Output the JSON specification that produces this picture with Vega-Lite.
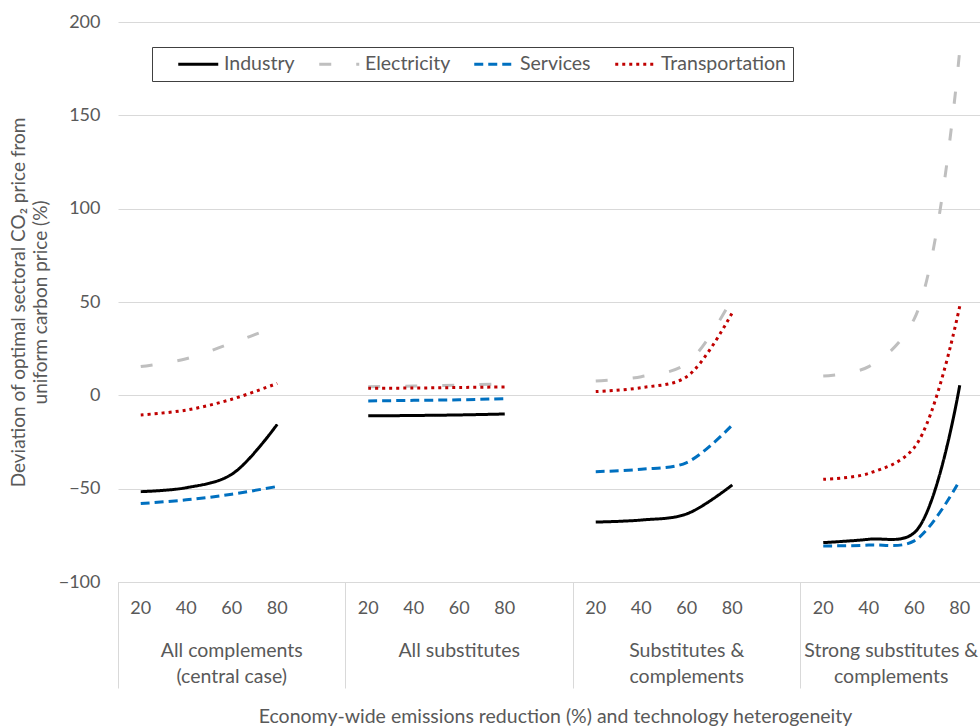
{
 "$schema": "https://vega.github.io/schema/vega-lite/v6.json",
 "autosize": {"type": "none"},
 "width": 862,
 "height": 560,
 "padding": {"left": 118, "top": 22, "right": 0, "bottom": 146},
 "background": "white",
 "data": {"values": [
  {"scenario": "All complements (central case)", "slot": "All complements (central case)|20", "sector": "Industry", "value": -51.6},
  {"scenario": "All complements (central case)", "slot": "All complements (central case)|40", "sector": "Industry", "value": -49.5},
  {"scenario": "All complements (central case)", "slot": "All complements (central case)|60", "sector": "Industry", "value": -42.3},
  {"scenario": "All complements (central case)", "slot": "All complements (central case)|80", "sector": "Industry", "value": -15.5},
  {"scenario": "All complements (central case)", "slot": "All complements (central case)|20", "sector": "Electricity", "value": 15.4},
  {"scenario": "All complements (central case)", "slot": "All complements (central case)|40", "sector": "Electricity", "value": 19.6},
  {"scenario": "All complements (central case)", "slot": "All complements (central case)|60", "sector": "Electricity", "value": 28.0},
  {"scenario": "All complements (central case)", "slot": "All complements (central case)|80", "sector": "Electricity", "value": 37.0},
  {"scenario": "All complements (central case)", "slot": "All complements (central case)|20", "sector": "Services", "value": -58.0},
  {"scenario": "All complements (central case)", "slot": "All complements (central case)|40", "sector": "Services", "value": -56.0},
  {"scenario": "All complements (central case)", "slot": "All complements (central case)|60", "sector": "Services", "value": -53.0},
  {"scenario": "All complements (central case)", "slot": "All complements (central case)|80", "sector": "Services", "value": -48.8},
  {"scenario": "All complements (central case)", "slot": "All complements (central case)|20", "sector": "Transportation", "value": -10.5},
  {"scenario": "All complements (central case)", "slot": "All complements (central case)|40", "sector": "Transportation", "value": -7.9},
  {"scenario": "All complements (central case)", "slot": "All complements (central case)|60", "sector": "Transportation", "value": -2.1},
  {"scenario": "All complements (central case)", "slot": "All complements (central case)|80", "sector": "Transportation", "value": 6.4},
  {"scenario": "All substitutes", "slot": "All substitutes|20", "sector": "Industry", "value": -11.0},
  {"scenario": "All substitutes", "slot": "All substitutes|40", "sector": "Industry", "value": -10.8},
  {"scenario": "All substitutes", "slot": "All substitutes|60", "sector": "Industry", "value": -10.5},
  {"scenario": "All substitutes", "slot": "All substitutes|80", "sector": "Industry", "value": -10.0},
  {"scenario": "All substitutes", "slot": "All substitutes|20", "sector": "Electricity", "value": 4.6},
  {"scenario": "All substitutes", "slot": "All substitutes|40", "sector": "Electricity", "value": 5.0},
  {"scenario": "All substitutes", "slot": "All substitutes|60", "sector": "Electricity", "value": 5.5},
  {"scenario": "All substitutes", "slot": "All substitutes|80", "sector": "Electricity", "value": 6.2},
  {"scenario": "All substitutes", "slot": "All substitutes|20", "sector": "Services", "value": -3.0},
  {"scenario": "All substitutes", "slot": "All substitutes|40", "sector": "Services", "value": -2.7},
  {"scenario": "All substitutes", "slot": "All substitutes|60", "sector": "Services", "value": -2.4},
  {"scenario": "All substitutes", "slot": "All substitutes|80", "sector": "Services", "value": -1.8},
  {"scenario": "All substitutes", "slot": "All substitutes|20", "sector": "Transportation", "value": 3.8},
  {"scenario": "All substitutes", "slot": "All substitutes|40", "sector": "Transportation", "value": 3.9},
  {"scenario": "All substitutes", "slot": "All substitutes|60", "sector": "Transportation", "value": 4.2},
  {"scenario": "All substitutes", "slot": "All substitutes|80", "sector": "Transportation", "value": 4.5},
  {"scenario": "Substitutes & complements", "slot": "Substitutes & complements|20", "sector": "Industry", "value": -67.9},
  {"scenario": "Substitutes & complements", "slot": "Substitutes & complements|40", "sector": "Industry", "value": -66.8},
  {"scenario": "Substitutes & complements", "slot": "Substitutes & complements|60", "sector": "Industry", "value": -63.5},
  {"scenario": "Substitutes & complements", "slot": "Substitutes & complements|80", "sector": "Industry", "value": -48.0},
  {"scenario": "Substitutes & complements", "slot": "Substitutes & complements|20", "sector": "Electricity", "value": 7.7},
  {"scenario": "Substitutes & complements", "slot": "Substitutes & complements|40", "sector": "Electricity", "value": 10.0},
  {"scenario": "Substitutes & complements", "slot": "Substitutes & complements|60", "sector": "Electricity", "value": 17.0},
  {"scenario": "Substitutes & complements", "slot": "Substitutes & complements|80", "sector": "Electricity", "value": 52.0},
  {"scenario": "Substitutes & complements", "slot": "Substitutes & complements|20", "sector": "Services", "value": -40.9},
  {"scenario": "Substitutes & complements", "slot": "Substitutes & complements|40", "sector": "Services", "value": -39.6},
  {"scenario": "Substitutes & complements", "slot": "Substitutes & complements|60", "sector": "Services", "value": -36.0},
  {"scenario": "Substitutes & complements", "slot": "Substitutes & complements|80", "sector": "Services", "value": -15.9},
  {"scenario": "Substitutes & complements", "slot": "Substitutes & complements|20", "sector": "Transportation", "value": 2.0},
  {"scenario": "Substitutes & complements", "slot": "Substitutes & complements|40", "sector": "Transportation", "value": 4.1},
  {"scenario": "Substitutes & complements", "slot": "Substitutes & complements|60", "sector": "Transportation", "value": 10.0},
  {"scenario": "Substitutes & complements", "slot": "Substitutes & complements|80", "sector": "Transportation", "value": 44.3},
  {"scenario": "Strong substitutes & complements", "slot": "Strong substitutes & complements|20", "sector": "Industry", "value": -78.9},
  {"scenario": "Strong substitutes & complements", "slot": "Strong substitutes & complements|40", "sector": "Industry", "value": -77.1},
  {"scenario": "Strong substitutes & complements", "slot": "Strong substitutes & complements|60", "sector": "Industry", "value": -73.6},
  {"scenario": "Strong substitutes & complements", "slot": "Strong substitutes & complements|80", "sector": "Industry", "value": 5.4},
  {"scenario": "Strong substitutes & complements", "slot": "Strong substitutes & complements|20", "sector": "Electricity", "value": 10.4},
  {"scenario": "Strong substitutes & complements", "slot": "Strong substitutes & complements|40", "sector": "Electricity", "value": 15.4},
  {"scenario": "Strong substitutes & complements", "slot": "Strong substitutes & complements|60", "sector": "Electricity", "value": 41.0},
  {"scenario": "Strong substitutes & complements", "slot": "Strong substitutes & complements|80", "sector": "Electricity", "value": 185.0},
  {"scenario": "Strong substitutes & complements", "slot": "Strong substitutes & complements|20", "sector": "Services", "value": -80.7},
  {"scenario": "Strong substitutes & complements", "slot": "Strong substitutes & complements|40", "sector": "Services", "value": -80.2},
  {"scenario": "Strong substitutes & complements", "slot": "Strong substitutes & complements|60", "sector": "Services", "value": -78.0},
  {"scenario": "Strong substitutes & complements", "slot": "Strong substitutes & complements|80", "sector": "Services", "value": -45.5},
  {"scenario": "Strong substitutes & complements", "slot": "Strong substitutes & complements|20", "sector": "Transportation", "value": -45.0},
  {"scenario": "Strong substitutes & complements", "slot": "Strong substitutes & complements|40", "sector": "Transportation", "value": -41.8},
  {"scenario": "Strong substitutes & complements", "slot": "Strong substitutes & complements|60", "sector": "Transportation", "value": -28.0},
  {"scenario": "Strong substitutes & complements", "slot": "Strong substitutes & complements|80", "sector": "Transportation", "value": 47.8}
 ]},
 "encoding": {
  "y": {
   "field": "value", "type": "quantitative",
   "scale": {"domain": [-100, 200], "nice": false, "zero": false},
   "axis": {
    "values": [-100, -50, 0, 50, 100, 150, 200],
    "domain": false, "ticks": false, "grid": true, "gridColor": "#d9d9d9", "gridWidth": 1,
    "labelFont": "Lato", "labelFontSize": 18, "labelColor": "#595959", "labelPadding": 18,
    "title": ["Deviation of optimal sectoral CO₂ price from", "uniform carbon price (%)"],
    "titleFont": "Lato", "titleFontSize": 19, "titleFontWeight": "normal", "titleColor": "#595959",
    "titlePadding": 8, "titleLineHeight": 22
   }
  }
 },
 "layer": [
  {
   "mark": {"type": "line", "strokeWidth": 3, "interpolate": "catmull-rom", "strokeCap": "butt", "strokeJoin": "round"},
   "encoding": {
    "x": {
     "field": "slot", "type": "nominal", "sort": null,
     "scale": {"type": "band", "paddingInner": 0, "paddingOuter": 0, "range": [0, 910],
      "domain": ["All complements (central case)|20", "All complements (central case)|40", "All complements (central case)|60", "All complements (central case)|80", "All complements (central case)|gap",
                 "All substitutes|20", "All substitutes|40", "All substitutes|60", "All substitutes|80", "All substitutes|gap",
                 "Substitutes & complements|20", "Substitutes & complements|40", "Substitutes & complements|60", "Substitutes & complements|80", "Substitutes & complements|gap",
                 "Strong substitutes & complements|20", "Strong substitutes & complements|40", "Strong substitutes & complements|60", "Strong substitutes & complements|80", "Strong substitutes & complements|gap"]},
     "axis": {
      "orient": "bottom",
      "values": ["All complements (central case)|20", "All complements (central case)|40", "All complements (central case)|60", "All complements (central case)|80",
                 "All substitutes|20", "All substitutes|40", "All substitutes|60", "All substitutes|80",
                 "Substitutes & complements|20", "Substitutes & complements|40", "Substitutes & complements|60", "Substitutes & complements|80",
                 "Strong substitutes & complements|20", "Strong substitutes & complements|40", "Strong substitutes & complements|60", "Strong substitutes & complements|80"],
      "labelExpr": "split(datum.value, '|')[1]",
      "domain": true, "domainColor": "#d9d9d9", "domainWidth": 1, "ticks": false, "grid": false,
      "labelFont": "Lato", "labelFontSize": 18, "labelColor": "#595959", "labelPadding": 17, "labelAngle": 0,
      "labelOverlap": false, "labelFlush": false, "labelBound": false, "title": null
     }
    },
    "color": {
     "field": "sector", "type": "nominal",
     "scale": {"domain": ["Industry", "Electricity", "Services", "Transportation"], "range": ["#000000", "#bfbfbf", "#0070c0", "#c00000"]},
     "legend": {"title": " "}
    },
    "strokeDash": {
     "field": "sector", "type": "nominal",
     "scale": {"domain": ["Industry", "Electricity", "Services", "Transportation"], "range": [[1, 0], [12, 25], [9, 5], [3, 4]]},
     "legend": {"title": " "}
    },
    "detail": {"field": "scenario", "type": "nominal"}
   }
  },
  {
   "mark": {"type": "point", "opacity": 0},
   "encoding": {
    "x": {
     "field": "slot", "type": "nominal", "sort": null,
     "axis": {
      "orient": "bottom",
      "values": ["All complements (central case)|60", "All substitutes|60", "Substitutes & complements|60", "Strong substitutes & complements|60"],
      "labelExpr": "datum.value == 'All complements (central case)|60' ? ['All complements', '(central case)'] : datum.value == 'All substitutes|60' ? 'All substitutes' : datum.value == 'Substitutes & complements|60' ? ['Substitutes &', 'complements'] : ['Strong substitutes &', 'complements']",
      "domain": false, "ticks": false, "grid": false,
      "labelFont": "Lato", "labelFontSize": 19.5, "labelColor": "#595959", "labelPadding": 59, "labelLineHeight": 26, "labelAngle": 0,
      "labelOffset": {"condition": {"test": "indexof(datum.value, 'Strong') == 0", "value": -23}, "value": 0},
      "labelOverlap": false, "labelFlush": false, "labelBound": false,
      "title": "Economy-wide emissions reduction (%) and technology heterogeneity",
      "titleFont": "Lato", "titleFontSize": 19.5, "titleFontWeight": "normal", "titleColor": "#595959",
      "titleX": 437, "titleY": 125, "titleBaseline": "top", "titleAnchor": "middle", "titleAlign": "center"
     }
    }
   }
  },
  {
   "mark": {"type": "point", "opacity": 0},
   "encoding": {
    "x": {
     "field": "slot", "type": "nominal", "sort": null,
     "axis": {
      "orient": "bottom",
      "values": ["All complements (central case)|20", "All substitutes|20", "Substitutes & complements|20", "Strong substitutes & complements|20"],
      "bandPosition": 0, "ticks": true, "tickSize": 106, "tickColor": "#d9d9d9", "tickWidth": 1,
      "labels": false, "domain": false, "grid": false, "title": null
     }
    }
   }
  }
 ],
 "resolve": {"axis": {"x": "independent"}},
 "config": {
  "view": {"stroke": null},
  "font": "Lato",
  "legend": {
   "orient": "none", "legendX": 34, "legendY": 25, "direction": "horizontal",
   "fillColor": "white", "strokeColor": "#404040", "padding": 7,
   "titleOrient": "left", "titleFontSize": 1, "titlePadding": 14.5,
   "symbolType": "M-4,0H4", "symbolSize": 100, "symbolStrokeWidth": 3, "symbolOffset": 15,
   "labelFont": "Lato", "labelFontSize": 19.5, "labelColor": "#595959",
   "columnPadding": 17, "labelOffset": 16, "labelLimit": 300
  }
 }
}
